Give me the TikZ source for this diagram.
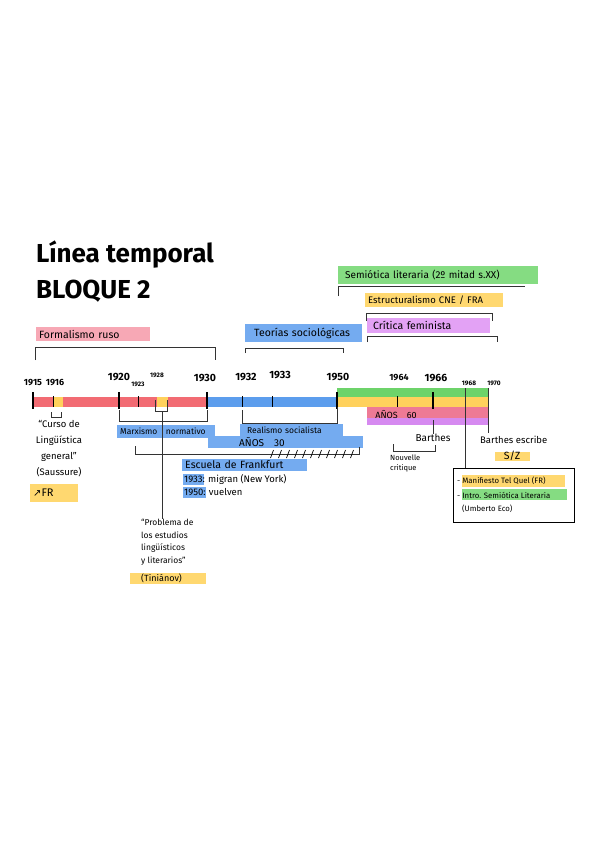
\documentclass[tikz,border=0pt]{standalone}
\usepackage{fontspec}
\setmainfont{Fira Sans}
\newfontfamily\symfont{DejaVu Sans}
\usetikzlibrary{positioning,calc}
\definecolor{redbar}{HTML}{F26B73}
\definecolor{bluebar}{HTML}{5C9DED}
\definecolor{greenbar}{HTML}{6DD36A}
\definecolor{yellowbar}{HTML}{FFD15C}
\definecolor{pinkbar}{HTML}{EE7A95}
\definecolor{purplebar}{HTML}{D68AF0}
\definecolor{pinkhl}{HTML}{F7A8B5}
\definecolor{bluehl}{HTML}{74ABF0}
\definecolor{greenhl}{HTML}{85DC82}
\definecolor{yellowhl}{HTML}{FFD870}
\definecolor{purplehl}{HTML}{E3A2F5}
\tikzset{
  hl/.style={fill=#1, anchor=west, inner xsep=3pt, inner ysep=1pt, align=left,
    font=\fontsize{9}{10}\selectfont},
  yearlab/.style={font=\fontsize{9}{10}\selectfont\bfseries, inner sep=0pt},
  titlefont/.style={font=\fontsize{26}{30}\selectfont\bfseries, inner sep=0pt},
  note/.style={font=\fontsize{8.5}{10}\selectfont, inner sep=0pt},
  bracketline/.style={draw=black!80, line width=0.8pt},
  tickmajor/.style={line width=1.6pt},
  tickminor/.style={line width=0.9pt}
}
\begin{document}
\begin{tikzpicture}[x=1pt,y=-1pt]
  \fill[white] (0,0) rectangle (600,848);
  \useasboundingbox (0,0) rectangle (600,848);

  % titulo
  \node[titlefont, anchor=base west] (titulo) at (36,262) {Línea temporal};
  \node[titlefont, anchor=base west] (bloque) at (36,298) {BLOQUE 2};

  % posiciones de los anos sobre la linea
  \foreach \yr/\x in {1915/33, 1916/53, 1920/119, 1923/138, 1928/157, 1930/207, 1932/242,
                      1933/272, 1950/337, 1964/397, 1966/433, 1968/465, 1970/488} {
    \coordinate (t\yr) at (\x,402);
  }

  % bandas de color
  \fill[redbar] (33,397) rectangle (207,407);
  \fill[bluebar] (207,397) rectangle (337,407);
  \fill[greenbar] (337,388) rectangle (488,397);
  \fill[yellowbar] (337,397) rectangle (488,407);
  \fill[pinkbar] (367,407) rectangle (488,418);
  \fill[purplebar] (367,418) rectangle (488,425);
  \fill[yellowbar] (53,397) rectangle (63,407);
  \fill[yellowbar] (157,397) rectangle (168,407);
  \node[font=\fontsize{9}{9}\selectfont, inner sep=0pt] (anos60) at (396,414) {AÑOS\quad 60};

  % marcas de los anos
  \foreach \yr in {1915, 1920, 1930, 1950, 1966} {
    \draw[tickmajor] ($(t\yr)+(0,-10)$) -- ($(t\yr)+(0,7)$);
  }
  \foreach \yr in {1916, 1923, 1932, 1933, 1964} {
    \draw[tickminor] ($(t\yr)+(0,-6)$) -- ($(t\yr)+(0,5)$);
  }

  % etiquetas de los anos (x, y)
  \foreach \yr/\x/\y in {1915/33/383, 1916/55/383, 1964/399/378} {
    \node[yearlab] (lab\yr) at (\x,\y) {\yr};
  }
  \foreach \yr/\x/\y in {1920/119/377, 1930/205/378, 1932/246/377, 1933/280/375,
                         1950/338/377, 1966/436/378} {
    \node[yearlab, font=\fontsize{10.5}{11}\selectfont\bfseries] (lab\yr) at (\x,\y) {\yr};
  }
  \foreach \yr/\x/\y in {1923/138/384, 1928/157/375, 1968/469/383, 1970/494/383} {
    \node[yearlab, font=\fontsize{6.5}{7}\selectfont\bfseries] (lab\yr) at (\x,\y) {\yr};
  }

  % periodos de arriba
  \node[hl=pinkhl, text width=108pt, minimum height=14pt, font=\fontsize{10.5}{11}\selectfont] (formalismo) at (36,334) {Formalismo ruso};
  \draw[bracketline] (35,360) -- (35,347) -- (215,347) -- (215,360);
  \node[hl=bluehl, text width=111pt, minimum height=18pt, font=\fontsize{10.5}{11}\selectfont] (teorias) at (245,333) {\hspace{6pt}Teorías sociológicas};
  \draw[bracketline] (245,353) -- (245,348) -- (343,348) -- (343,353);
  \node[hl=greenhl, text width=194pt, minimum height=18pt, font=\fontsize{10}{11}\selectfont] (semiotica) at (338,275) {\hspace{4pt}Semiótica literaria (2º mitad s.XX)};
  \draw[bracketline] (338,296) -- (338,286) -- (525,286);
  \node[hl=yellowhl, text width=132pt, minimum height=14pt, font=\fontsize{9.5}{10}\selectfont] (estructuralismo) at (365,300) {Estructuralismo CNE / FRA};
  \draw[bracketline] (366,321) -- (366,313) -- (492,313) -- (492,321);
  \node[hl=purplehl, text width=117pt, minimum height=15pt, font=\fontsize{10.5}{11}\selectfont] (critica) at (367,325) {\hspace{3pt}Crítica feminista};
  \draw[bracketline] (367,342) -- (367,336) -- (497,336) -- (497,342);

  % Saussure
  \draw[bracketline] (51,412) -- (51,417) -- (61,417) -- (61,412);
  \node[note, align=center, anchor=north, font=\fontsize{9.5}{16}\selectfont] (saussure) at (59,420)
    {“Curso de\\Lingüística\\general”\\(Saussure)};
  \node[hl=yellowhl, text width=42pt, minimum height=18pt, font=\fontsize{11}{12}\selectfont] (fr) at (30,493) {{\symfont\fontsize{10}{12}\selectfont ↗}FR};

  % Marxismo normativo
  \draw[bracketline] (119,410) -- (119,421) -- (207,421) -- (207,410);
  \node[hl=bluehl, text width=92pt, minimum height=13pt, font=\fontsize{8.5}{9}\selectfont] (marxismo) at (117,431) {Marxismo\quad normativo};

  % Tinianov
  \draw[bracketline] (155,400) -- (155,411) -- (167,411) -- (167,400);
  \coordinate (tinianovtop) at (162,411);
  \node[note, align=left, anchor=north west, font=\fontsize{8.5}{12.5}\selectfont] (problema) at (141,519)
    {“Problema de\\los estudios\\lingüísticos\\y literarios”};
  \node[hl=yellowhl, text width=70pt, minimum height=11pt, font=\fontsize{9}{9}\selectfont] (tinianov) at (130,578) {\hspace{8pt}(Tiniánov)};
  \draw[bracketline] (tinianovtop) -- (tinianovtop |- problema.north);

  % Realismo socialista y anos 30
  \draw[bracketline] (242,410) -- (242,423) -- (337,423) -- (337,407);
  \node[hl=bluehl, text width=97pt, minimum height=12pt, font=\fontsize{8.5}{9}\selectfont] (realismo) at (240,430) {\hspace{4pt}Realismo socialista};
  \node[hl=bluehl, text width=149pt, minimum height=10pt, font=\fontsize{10}{10}\selectfont] (anos30) at (208,442) {\hspace{28pt}AÑOS\quad 30};
  \draw[bracketline] (135,446) -- (135,454) -- (359,454) -- (359,447);
  \foreach \hx in {272,280,...,352} {
    \draw[line width=0.7pt] (\hx-1.5,458) -- (\hx+1.5,450);
  }

  % Escuela de Frankfurt
  \node[hl=bluehl, text width=119pt, minimum height=12pt, font=\fontsize{10.5}{11}\selectfont] (frankfurt) at (182,465) {Escuela de Frankfurt};
  \fill[bluehl] (183,474) rectangle (204,485);
  \fill[bluehl] (183,487) rectangle (206,498);
  \node[note, anchor=west, font=\fontsize{9.5}{10}\selectfont] (migran) at (184,479) {1933: migran (New York)};
  \node[note, anchor=west, font=\fontsize{9.5}{10}\selectfont] (vuelven) at (184,492) {1950: vuelven};

  % Barthes
  \node[note, font=\fontsize{10}{10}\selectfont] (barthes) at (433,438) {Barthes};
  \draw[bracketline] (433,420) -- (barthes.north);
  \draw[bracketline] (393,444) -- (393,451) -- (435,451) -- (435,445);
  \node[note, align=left, anchor=north west, font=\fontsize{7.5}{10}\selectfont] (nouvelle) at (390,455) {Nouvelle\\critique};

  % Tel Quel
  \draw[line width=0.8pt] (453,468) rectangle (574,522);
  \coordinate (cajatop) at (465,468);
  \draw[bracketline] (465,388) -- (cajatop);
  \fill[yellowhl] (462,475) rectangle (565,487);
  \fill[greenhl] (462,489) rectangle (567,500);
  \node[note, anchor=west, font=\fontsize{7.8}{9}\selectfont] (telquel) at (457,481) {- Manifiesto Tel Quel (FR)};
  \node[note, anchor=west, font=\fontsize{7.8}{9}\selectfont] (intro) at (457,495) {- Intro. Semiótica Literaria};
  \node[note, anchor=west, font=\fontsize{7.8}{9}\selectfont] (eco) at (462,509) {(Umberto Eco)};

  % S/Z
  \node[note, anchor=west, font=\fontsize{9.5}{10}\selectfont] (escribe) at (480,440) {Barthes escribe};
  \draw[bracketline] (488,388) -- (488,433);
  \fill[yellowhl] (495,452) rectangle (530,461);
  \node[note, font=\fontsize{10.5}{11}\selectfont] (sz) at (512,456) {S/Z};
\end{tikzpicture}
\end{document}
